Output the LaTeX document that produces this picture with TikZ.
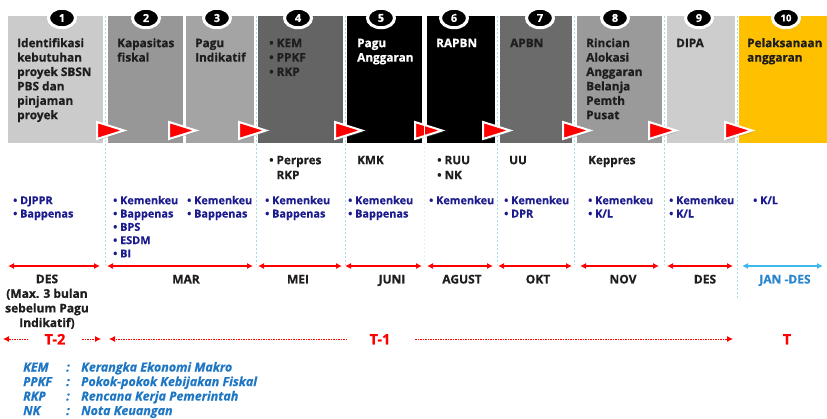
\documentclass[tikz,border=0pt]{standalone}
\usepackage{fontspec}
\setmainfont{Open Sans}[BoldFeatures={FakeBold=0.6},BoldItalicFeatures={FakeBold=0.6}]
\usetikzlibrary{shadows,arrows.meta,shapes.geometric}

\definecolor{grayA}{HTML}{CBCBCB}
\definecolor{grayB}{HTML}{979797}
\definecolor{grayC}{HTML}{A4A4A4}
\definecolor{grayD}{HTML}{646464}
\definecolor{grayE}{HTML}{6B6B6B}
\definecolor{grayF}{HTML}{9A9A9A}
\definecolor{grayG}{HTML}{CDCDCD}
\definecolor{gold}{HTML}{FFC000}
\definecolor{boxtext}{HTML}{1E1E1E}
\definecolor{navy}{HTML}{1C1C8E}
\definecolor{legblue}{HTML}{1F77C4}
\definecolor{sepline}{HTML}{A6DCE6}
\definecolor{skyarrow}{HTML}{3DB7EC}
\definecolor{janblue}{HTML}{2C86CC}

\begin{document}
\begin{tikzpicture}[x=1pt,y=-1pt,
  stage/.style={draw=none,anchor=north west,minimum height=127pt,inner sep=0pt},
  badge/.style={ellipse,fill=black,draw=white,line width=3pt,minimum width=27pt,minimum height=19.5pt,inner sep=0pt,
    text=white,font=\fontsize{11}{12}\selectfont\bfseries,
    drop shadow={shadow xshift=1pt,shadow yshift=-1.5pt,opacity=0.35}},
  flag/.style={fill=red,draw=white,line width=2pt,line join=miter,
    drop shadow={shadow xshift=1.5pt,shadow yshift=-1.5pt,opacity=0.35}},
  % multi-line blocks hang from the top of a strut on their first line
  stagetext/.style={anchor=north west,align=left,inner sep=0pt,text=boxtext,
    font=\fontsize{11.8}{14.4}\selectfont\bfseries},
  doctext/.style={anchor=north west,align=left,inner sep=0pt,text=boxtext,
    font=\fontsize{11.7}{15}\selectfont\bfseries},
  whotext/.style={anchor=north west,align=left,inner sep=0pt,text=navy,
    font=\fontsize{10.9}{13.3}\selectfont\bfseries},
  monthtext/.style={anchor=base,align=center,inner sep=0pt,text=boxtext,
    font=\fontsize{12}{14.6}\selectfont\bfseries},
  periodtext/.style={anchor=base,inner sep=0pt,text=red,
    font=\fontsize{14.5}{16}\selectfont\bfseries},
  legendtext/.style={anchor=base west,inner sep=0pt,text=legblue,
    font=\fontsize{12.5}{14}\selectfont\bfseries\itshape},
  sep/.style={sepline,dash pattern=on 2pt off 2pt,line width=0.7pt},
  span/.style={red,line width=1.1pt,{Latex[length=6pt,width=6pt]}-{Latex[length=6pt,width=6pt]}},
  period/.style={red,line width=0.8pt,dash pattern=on 1.5pt off 1pt,-{Latex[length=6pt,width=6pt]}}
]
\useasboundingbox (0,0) rectangle (827,419);

% stage boxes
\node[stage,fill=grayA,minimum width=95pt] (b1) at (8,16) {};
\node[stage,fill=grayB,minimum width=75pt] (b2) at (108,16) {};
\node[stage,fill=grayC,minimum width=68pt] (b3) at (186,16) {};
\node[stage,fill=grayD,minimum width=85pt] (b4) at (258,16) {};
\node[stage,fill=black,minimum width=75pt] (b5) at (347,16) {};
\node[stage,fill=black,minimum width=68pt] (b6) at (427,16) {};
\node[stage,fill=grayE,minimum width=72pt] (b7) at (500,16) {};
\node[stage,fill=grayF,minimum width=85pt] (b8) at (577,16) {};
\node[stage,fill=grayG,minimum width=68pt] (b9) at (667,16) {};
\node[stage,fill=gold,minimum width=88pt] (b10) at (739,16) {};

% period separators
\foreach \x in {105.5,256,345,497.5,574.5,664.5}
  \draw[sep] (\x,16) -- (\x,265);
\draw[sep,opacity=0.35] (424.5,143) -- (424.5,265);
\draw[sep] (737,16) -- (737,300);

% flow markers
\foreach \l in {97,169,239,335,415,483,563,649,725}
  \filldraw[flag] (\l,122) -- (\l+27,130.5) -- (\l,139) -- cycle;
\draw[white,line width=1.6pt] (424.5,16) -- (424.5,143);

% step numbers
\foreach \i/\x in {1/62,2/146,3/217,4/298,5/381,6/454,7/540,8/615,9/699}
  \node[badge] (n\i) at (\x,18) {\i};
\node[badge,font=\fontsize{9.5}{11}\selectfont\bfseries] (n10) at (786,18) {10};

% stage titles (first baseline at y = 47)
\node[stagetext] (t1) at (17,36.9) {\strut Identifikasi\\kebutuhan\\proyek SBSN\\PBS dan\\pinjaman\\proyek};
\node[stagetext] (t2) at (117,36.9) {\strut Kapasitas\\fiskal};
\node[stagetext] (t3) at (195,36.9) {\strut Pagu\\Indikatif};
\node[stagetext] (t4) at (269,36.9) {\strut• KEM\\• PPKF\\• RKP};
\node[stagetext,text=white] (t5) at (357,36.9) {\strut Pagu\\Anggaran};
\node[stagetext,text=white] (t6) at (436,36.9) {\strut RAPBN};
\node[stagetext] (t7) at (510,36.9) {\strut APBN};
\node[stagetext] (t8) at (586,36.9) {\strut Rincian\\Alokasi\\Anggaran\\Belanja\\Pemth\\Pusat};
\node[stagetext] (t9) at (676,36.9) {\strut DIPA};
\node[stagetext] (t10) at (747,36.9) {\strut Pelaksanaan\\anggaran};

% legal documents (first baseline at y = 164)
\node[doctext] (d4) at (269,153.5) {\strut• Perpres\\\hphantom{• }RKP};
\node[doctext] (d5) at (357,153.5) {\strut KMK};
\node[doctext] (d6) at (437,153.5) {\strut• RUU\\• NK};
\node[doctext] (d7) at (509,153.5) {\strut UU};
\node[doctext] (d8) at (588,153.5) {\strut Keppres};

% institutions involved (first baseline at y = 204)
\node[whotext] (a1) at (13,194.7) {\strut• DJPPR\\• Bappenas};
\node[whotext] (a2) at (113,194.7) {\strut• Kemenkeu\\• Bappenas\\• BPS\\• ESDM\\• BI};
\node[whotext] (a3) at (187,194.7) {\strut• Kemenkeu\\• Bappenas};
\node[whotext] (a4) at (265,194.7) {\strut• Kemenkeu\\• Bappenas};
\node[whotext] (a5) at (348,194.7) {\strut• Kemenkeu\\• Bappenas};
\node[whotext] (a6) at (429,194.7) {\strut• Kemenkeu};
\node[whotext] (a7) at (504,194.7) {\strut• Kemenkeu\\• DPR};
\node[whotext] (a8) at (588,194.7) {\strut• Kemenkeu\\• K/L};
\node[whotext] (a9) at (669,194.7) {\strut• Kemenkeu\\• K/L};
\node[whotext] (a10) at (753,194.7) {\strut• K/L};

% month spans
\foreach \i/\a/\b in {1/8/100,2/107/253,3/258/342,4/345/422,5/427/493,6/498/572,7/580/659,8/667/733,9/742/823}{
  \coordinate (s\i) at (\a,266);
  \coordinate (e\i) at (\b,266);
}
\foreach \i in {1,...,8}
  \draw[span] (s\i) -- (e\i);
\draw[span,skyarrow] (s9) -- (e9);

\node[monthtext,anchor=north] (m1) at (47,272.8) {\strut DES\\(Max. 3 bulan\\sebelum Pagu\\Indikatif)};
\node[monthtext] (m2) at (186,283.5) {MAR};
\node[monthtext] (m3) at (298,283.5) {MEI};
\node[monthtext] (m4) at (392,283.5) {JUNI};
\node[monthtext] (m5) at (462,283.5) {AGUST};
\node[monthtext] (m6) at (538,283.5) {OKT};
\node[monthtext] (m7) at (623,283.5) {NOV};
\node[monthtext] (m8) at (705,283.5) {DES};
\node[monthtext,text=janblue] (m9) at (785,283.5) {JAN -DES};

% fiscal years
\coordinate (p1a) at (28,339);  \coordinate (p1b) at (3,339);
\coordinate (p2a) at (82,339);  \coordinate (p2b) at (101,339);
\coordinate (p3a) at (347,339); \coordinate (p3b) at (109,339);
\coordinate (p4a) at (415,339); \coordinate (p4b) at (733,339);
\draw[period] (p1a) -- (p1b);
\draw[period] (p2a) -- (p2b);
\draw[period] (p3a) -- (p3b);
\draw[period] (p4a) -- (p4b);
\node[periodtext] (y2) at (55,344.5) {T-2};
\node[periodtext] (y1) at (380,344.5) {T-1};
\node[periodtext] (y0) at (787,344.5) {T};

% abbreviations
\foreach \k/\y/\ab/\full in {1/371.5/KEM/Kerangka Ekonomi Makro,2/386/PPKF/Pokok-pokok Kebijakan Fiskal,3/400.5/RKP/Rencana Kerja Pemerintah,4/415/NK/Nota Keuangan}{
  \node[legendtext] (la\k) at (23,\y) {\ab};
  \node[legendtext] (lc\k) at (66,\y) {:};
  \node[legendtext] (lf\k) at (81,\y) {\full};
}
\end{tikzpicture}
\end{document}
